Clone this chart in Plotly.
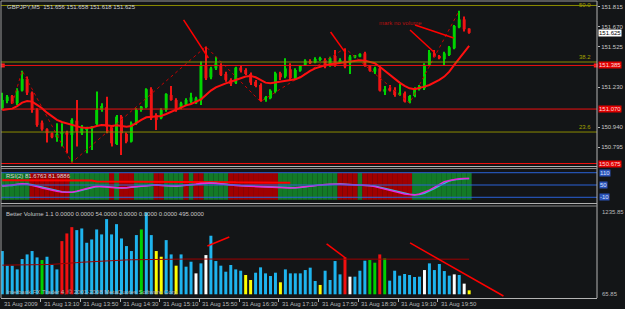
import plotly.graph_objects as go

# ---------------- data ----------------
bars = list(range(95))
time_labels = ["31 Aug 2009", "31 Aug 13:10", "31 Aug 13:50", "31 Aug 14:30", "31 Aug 15:10",
               "31 Aug 15:50", "31 Aug 16:30", "31 Aug 17:10", "31 Aug 17:50", "31 Aug 18:30",
               "31 Aug 19:10", "31 Aug 19:50"]
time_label_bars = [0, 8, 16, 24, 32, 40, 48, 56, 64, 72, 80, 88]

opens = [151.077, 151.130, 151.166, 151.113, 151.205, 151.290, 151.190, 151.064, 150.972, 150.924,
         150.895, 150.866, 150.890, 150.900, 150.883, 150.987, 150.895, 150.924, 150.931, 150.963,
         151.064, 151.084, 150.943, 150.817, 151.016, 150.890, 150.834, 150.967, 151.064, 151.084,
         151.215, 151.028, 151.004, 151.064, 151.173, 151.137, 151.084, 151.101, 151.125, 151.113,
         151.137, 151.384, 151.302, 151.367, 151.384, 151.326, 151.283, 151.263, 151.372, 151.355,
         151.326, 151.270, 151.246, 151.137, 151.149, 151.198, 151.331, 151.307, 151.360, 151.295,
         151.350, 151.392, 151.421, 151.409, 151.428, 151.428, 151.384, 151.457, 151.409, 151.423,
         151.404, 151.447, 151.452, 151.476, 151.384, 151.343, 151.367, 151.198, 151.222, 151.210,
         151.173, 151.186, 151.125, 151.166, 151.215, 151.222, 151.392, 151.476, 151.457, 151.433,
         151.464, 151.513, 151.665, 151.723, 151.656]
highs = [151.190, 151.173, 151.173, 151.222, 151.350, 151.307, 151.198, 151.077, 150.987, 150.931,
         150.900, 150.967, 150.967, 150.914, 151.004, 151.137, 150.955, 150.943, 150.948, 151.198,
         151.113, 151.161, 150.955, 151.028, 151.028, 150.900, 150.980, 151.077, 151.093, 151.222,
         151.229, 151.040, 151.077, 151.186, 151.239, 151.149, 151.125, 151.149, 151.190, 151.161,
         151.416, 151.525, 151.379, 151.452, 151.404, 151.343, 151.295, 151.379, 151.384, 151.367,
         151.336, 151.283, 151.258, 151.166, 151.215, 151.343, 151.343, 151.440, 151.404, 151.367,
         151.392, 151.433, 151.433, 151.447, 151.452, 151.440, 151.452, 151.501, 151.440, 151.513,
         151.464, 151.464, 151.476, 151.488, 151.392, 151.379, 151.379, 151.239, 151.246, 151.229,
         151.253, 151.198, 151.173, 151.229, 151.246, 151.404, 151.501, 151.501, 151.464, 151.488,
         151.530, 151.682, 151.786, 151.743, 151.658]
lows = [151.064, 151.113, 151.108, 151.101, 151.198, 151.173, 151.045, 150.943, 150.914, 150.827,
        150.858, 150.834, 150.798, 150.749, 150.682, 150.798, 150.883, 150.749, 150.774, 150.948,
        151.052, 150.895, 150.798, 150.810, 150.737, 150.822, 150.827, 150.955, 151.052, 151.077,
        150.992, 150.919, 150.997, 151.052, 151.132, 151.052, 151.069, 151.093, 151.113, 151.108,
        151.101, 151.283, 151.288, 151.355, 151.312, 151.270, 151.239, 151.253, 151.336, 151.319,
        151.246, 151.229, 151.125, 151.125, 151.142, 151.186, 151.283, 151.295, 151.283, 151.288,
        151.343, 151.384, 151.399, 151.404, 151.421, 151.367, 151.379, 151.379, 151.404, 151.367,
        151.326, 151.440, 151.447, 151.379, 151.343, 151.326, 151.198, 151.173, 151.198, 151.161,
        151.166, 151.118, 151.113, 151.156, 151.205, 151.210, 151.384, 151.447, 151.433, 151.392,
        151.457, 151.505, 151.658, 151.634, 151.618]
closes = [151.137, 151.161, 151.113, 151.205, 151.290, 151.190, 151.064, 150.955, 150.924, 150.895,
          150.866, 150.890, 150.900, 150.885, 150.992, 150.907, 150.936, 150.936, 150.943, 151.064,
          151.093, 150.943, 150.822, 151.016, 150.895, 150.834, 150.967, 151.064, 151.089, 151.215,
          151.004, 150.992, 151.064, 151.181, 151.137, 151.064, 151.113, 151.137, 151.156, 151.149,
          151.384, 151.295, 151.367, 151.404, 151.319, 151.283, 151.253, 151.372, 151.350, 151.326,
          151.263, 151.239, 151.132, 151.156, 151.205, 151.331, 151.302, 151.367, 151.295, 151.355,
          151.384, 151.423, 151.404, 151.435, 151.440, 151.379, 151.440, 151.392, 151.428, 151.379,
          151.452, 151.462, 151.471, 151.384, 151.350, 151.367, 151.205, 151.215, 151.205, 151.173,
          151.190, 151.125, 151.166, 151.222, 151.239, 151.392, 151.481, 151.452, 151.440, 151.476,
          151.520, 151.675, 151.723, 151.651, 151.625]
ma_values = [151.064, 151.069, 151.074, 151.093, 151.118, 151.130, 151.125, 151.101, 151.077, 151.045,
             151.016, 150.992, 150.977, 150.967, 150.955, 150.943, 150.936, 150.934, 150.936, 150.948,
             150.955, 150.953, 150.948, 150.953, 150.948, 150.943, 150.948, 150.972, 150.992, 151.011,
             151.016, 151.016, 151.021, 151.035, 151.052, 151.069, 151.084, 151.098, 151.108, 151.125,
             151.142, 151.173, 151.205, 151.229, 151.246, 151.258, 151.270, 151.283, 151.295, 151.307,
             151.312, 151.302, 151.283, 151.263, 151.258, 151.263, 151.270, 151.278, 151.278, 151.287,
             151.302, 151.326, 151.348, 151.367, 151.379, 151.389, 151.396, 151.401, 151.404, 151.409,
             151.413, 151.421, 151.426, 151.423, 151.416, 151.404, 151.379, 151.350, 151.319, 151.290,
             151.263, 151.239, 151.222, 151.215, 151.222, 151.234, 151.246, 151.263, 151.283, 151.307,
             151.343, 151.392, 151.440, 151.488, 151.530]
zigzag_bars = [2, 4, 14, 41, 52, 69, 82, 92]
zigzag_prices = [151.108, 151.350, 150.682, 151.525, 151.125, 151.513, 151.113, 151.786]

price_ticks = [151.815, 151.670, 151.525, 151.230, 150.940, 150.795]
price_tick_text = ["151.815", "151.670", "151.525", "151.230", "150.940", "150.795"]
fib_prices = [151.824, 151.413, 150.904]
fib_labels = ["50.0", "38.2", "23.6"]
sr_prices = [151.388, 151.071, 150.675]
sr_labels = ["151.385", "151.070", "150.675"]

rsi_main = [45, 47, 50, 54, 56, 54, 49, 42, 35, 29, 24, 19, 16, 14, 15, 20, 27, 33, 39, 44,
            43, 40, 38, 36, 35, 37, 40, 42, 44, 48, 51, 50, 48, 46, 44, 45, 47, 49, 50, 54,
            58, 60, 59, 57, 54, 52, 50, 48, 46, 45, 44, 43, 41, 40, 39, 38, 36, 35, 35, 37,
            40, 44, 47, 49, 51, 53, 54, 55, 54, 53, 52, 51, 50, 50, 47, 42, 36, 30, 23, 17,
            11, 6, 3, 1, 6, 14, 25, 38, 52, 66, 72, 77, 80, 82, 82]
rsi_signal = [46, 46, 48, 52, 55, 55, 51, 45, 38, 32, 26, 21, 17, 15, 14, 18, 24, 30, 36, 42,
              44, 41, 39, 37, 35, 36, 39, 41, 43, 46, 50, 51, 49, 47, 45, 44, 46, 48, 50, 52,
              56, 59, 60, 58, 55, 53, 51, 49, 47, 46, 45, 44, 42, 41, 40, 39, 37, 36, 35, 36,
              38, 42, 45, 48, 50, 52, 53, 54, 55, 54, 53, 52, 51, 50, 49, 45, 39, 33, 26, 20,
              14, 9, 5, 2, 4, 10, 20, 32, 46, 60, 70, 76, 80, 81, 82]
rsi_slow = [73, 73, 73, 73, 73, 73, 73, 73, 73, 72, 72, 72, 72, 72, 72, 72, 72, 72, 72,
            67, 67, 67, 67, 67, 66, 66, 66, 66, 66, 66, 66, 66, 65, 65, 65, 65, 65, 65, 65, 65,
            64, 64, 64, 64, 64, 64, 64,
            63, 63, 63, 63, 62, 62, 62, 62, 62, 61, 61, 61]
rsi_levels = [110, 50, -10]
rsi_level_text = ["110", "50", "-10"]
rsi_zone_runs = [("g", 6), ("r", 8), ("g", 8), ("r", 1), ("g", 1), ("r", 3), ("g", 4), ("r", 2),
                 ("g", 4), ("r", 1), ("g", 1), ("r", 2), ("g", 5), ("r", 10), ("g", 12), ("r", 4),
                 ("g", 1), ("r", 10), ("g", 12)]

volume = [653, 432, 432, 376, 532, 602, 653, 557, 517, 567,
          442, 376, 803, 919, 1014, 969, 994, 778, 828, 979,
          904, 1135, 904, 1059, 843, 728, 653, 894, 979, 1236,
          894, 653, 567, 818, 602, 432, 602, 417, 492, 316,
          467, 592, 884, 502, 432, 341, 442, 376, 356, 291,
          216, 326, 407, 316, 276, 326, 181, 376, 316, 316,
          316, 366, 402, 201, 141, 356, 216, 502, 301, 557,
          266, 266, 356, 507, 517, 477, 602, 542, 206, 356,
          281, 306, 291, 261, 266, 366, 467, 366, 457, 351,
          281, 301, 291, 161, 60]
volume_kind = list("ccccccccgcccrrrcccccccccccccgccyyccycccwcwcccccccyycccccycccccccyccccrwcccggrgcccccccwcccccwcwy")
volume_avg = [440, 440, 441, 441, 442, 443, 444, 445, 447, 449,
              452, 455, 460, 466, 472, 478, 484, 489, 494, 498,
              502, 506, 510, 513, 516, 519, 521, 523, 525, 527,
              528, 529, 530, 530, 531, 531, 531, 532, 532, 532,
              532, 533, 533, 533, 533, 533, 533, 532, 532, 532,
              532, 531, 531, 531, 531, 530, 530, 530, 530, 530,
              530, 530, 530, 530, 529, 529, 529, 529, 529, 530,
              530, 530, 530, 530, 531, 531, 531, 531, 531, 531,
              531, 531, 531, 530, 530, 530, 530, 530, 530, 530,
              530, 530, 530, 530, 530]

# hand-drawn trend strokes on the chart (bar index, value)
price_strokes = [((36.5, 151.719), (41.5, 151.442)), ((66.1, 151.631), (69.1, 151.479)),
                 ((82.1, 151.646), (86.9, 151.486)), ((83.1, 151.682), (90.9, 151.588))]
volume_strokes = [((41.3, 729), (45.7, 865)), ((65.3, 760), (69.1, 548)), ((82.1, 775), (100.9, -26))]

# ---------------- layout helpers ----------------
W, H = 625, 309
ML, MR, MT, MB = 1, 24, 2, 11
PW, PH = W - ML - MR, H - MT - MB
BAR_PX, BAR0_PX = 5.0, 2.3


def py(pix):
    return (H - MB - pix) / PH


def pxp(pix):
    return (pix - ML) / PW


BG = "#131517"
FONT = "Liberation Sans"
GRAY = "#B8B8B8"
BULL = "#00D400"
BEAR = "#F01414"

fig = go.Figure()

# price panel -----------------------------------------------------------
ccol = [BULL if c >= o else BEAR for o, c in zip(opens, closes)]
fig.add_trace(go.Bar(x=bars, y=[h - l for h, l in zip(highs, lows)], base=lows, width=0.2,
                     marker=dict(color=ccol, line=dict(width=0)), xaxis="x", yaxis="y"))
fig.add_trace(go.Bar(x=bars, y=[max(abs(c - o), 0.006) for o, c in zip(opens, closes)],
                     base=[min(o, c) for o, c in zip(opens, closes)], width=0.6,
                     marker=dict(color=ccol, line=dict(width=0)), xaxis="x", yaxis="y"))
fig.add_trace(go.Scatter(x=zigzag_bars, y=zigzag_prices, mode="lines",
                         line=dict(color="#C80000", width=1, dash="dot"), xaxis="x", yaxis="y"))
fig.add_trace(go.Scatter(x=bars, y=ma_values, mode="lines",
                         line=dict(color="#FF1010", width=2), xaxis="x", yaxis="y"))

# rsi panel ---------------------------------------------------------------
zones = []
for z, n in rsi_zone_runs:
    zones += [z] * n
for code, colr in (("g", "#137A27"), ("r", "#A00000")):
    xs = [b for b, z in zip(bars, zones) if z == code]
    fig.add_trace(go.Bar(x=xs, y=[131] * len(xs), base=-22, width=1.0,
                         marker=dict(color=colr, line=dict(width=0)), xaxis="x", yaxis="y2"))
fig.add_trace(go.Scatter(x=bars[:len(rsi_slow)], y=rsi_slow, mode="lines",
                         line=dict(color="#FF0000", width=2), xaxis="x", yaxis="y2"))
fig.add_trace(go.Scatter(x=bars, y=rsi_signal, mode="lines",
                         line=dict(color="#30B8E0", width=1.5), xaxis="x", yaxis="y2"))
fig.add_trace(go.Scatter(x=bars, y=rsi_main, mode="lines",
                         line=dict(color="#E828D8", width=1.5), xaxis="x", yaxis="y2"))

# volume panel ------------------------------------------------------------
vmap = {"c": "#1EB4EE", "r": "#F01010", "g": "#00D000", "y": "#FFFF00", "w": "#FFFFFF"}
fig.add_trace(go.Bar(x=bars, y=volume, width=0.6,
                     marker=dict(color=[vmap[k] for k in volume_kind], line=dict(width=0)),
                     xaxis="x", yaxis="y3"))
fig.add_trace(go.Scatter(x=bars, y=volume_avg, mode="lines",
                         line=dict(color="#A00000", width=1), xaxis="x", yaxis="y3"))

shapes = []
for p in fib_prices:
    shapes.append(dict(type="line", xref="paper", x0=0, x1=1, yref="y", y0=p, y1=p,
                       line=dict(color="#8C8C00", width=1)))
for p in sr_prices:
    shapes.append(dict(type="line", xref="paper", x0=0, x1=1, yref="y", y0=p, y1=p,
                       line=dict(color="#F01010", width=1)))
for lv in rsi_levels:
    shapes.append(dict(type="line", xref="paper", x0=0, x1=1, yref="y2", y0=lv, y1=lv,
                       line=dict(color="#2A62D8", width=1)))
for (a, b) in price_strokes:
    shapes.append(dict(type="line", xref="x", yref="y", x0=a[0], y0=a[1], x1=b[0], y1=b[1],
                       line=dict(color="#FF0000", width=1.5)))
for (a, b) in volume_strokes:
    shapes.append(dict(type="line", xref="x", yref="y3", x0=a[0], y0=a[1], x1=b[0], y1=b[1],
                       line=dict(color="#FF0000", width=1.5)))
shapes += [
    dict(type="line", xref="paper", yref="paper", x0=0, x1=1, y0=py(1), y1=py(1), line=dict(color="#9A9A9A", width=1)),
    dict(type="line", xref="paper", yref="paper", x0=0, x1=0, y0=0, y1=py(1), line=dict(color="#9A9A9A", width=1)),
    dict(type="line", xref="paper", yref="paper", x0=1, x1=1, y0=0, y1=py(1), line=dict(color="#B4B4B4", width=1)),
    dict(type="line", xref="paper", yref="paper", x0=0, x1=1, y0=py(166.5), y1=py(166.5), line=dict(color="#B0B0B0", width=1)),
    dict(type="line", xref="paper", yref="paper", x0=0, x1=1, y0=py(168.5), y1=py(168.5), line=dict(color="#8A8A8A", width=1)),
    dict(type="line", xref="paper", yref="paper", x0=0, x1=1, y0=py(203.5), y1=py(203.5), line=dict(color="#B0B0B0", width=1)),
    dict(type="line", xref="paper", yref="paper", x0=0, x1=1, y0=py(206), y1=py(206), line=dict(color="#8A8A8A", width=1)),
]

ann = []


def txt(text, x, y, xref="paper", yref="paper", color=GRAY, xanchor="left", yanchor="middle",
        size=6, bg=None, xshift=0):
    d = dict(text=text, x=x, y=y, xref=xref, yref=yref, showarrow=False, xanchor=xanchor,
             yanchor=yanchor, font=dict(family=FONT, size=size, color=color), xshift=xshift)
    if bg:
        d.update(bgcolor=bg, borderpad=0)
    ann.append(d)


for lab, b in zip(time_labels, time_label_bars):
    txt(lab, pxp(BAR0_PX + BAR_PX * b - 1.5), py(304), xshift=1)
txt("GBPJPY,M5  151.656 151.658 151.618 151.625", pxp(5), py(6.5), color="#D0D0D0")
txt("RSI(2) 81.6763 81.9886", pxp(4), py(176), color="#D8D8D8")
txt("Better Volume 1.1 0.0000 0.0000 54.0000 0.0000 0.0000 0.0000 495.0000", pxp(4), py(214), color="#C8C8C8")
txt("Interbank FX Trader 4, \u00a9 2001-2008 MetaQuotes Software Corp.", pxp(4), py(292), color="#B0B0B0")
txt("mark no volume", 75.5, 151.697, xref="x", yref="y", color="#B81010")
for lab, p in zip(fib_labels, fib_prices):
    txt(lab, 119.0, p, xref="x", yref="y", color="#A0A000", xanchor="right",
        yanchor="middle" if p > 151.8 else "bottom")
for lab, p in zip(sr_labels, sr_prices):
    txt(lab, 1, p, yref="y", color="#FFD8D8", bg="#E00000", xshift=1)
txt("151.625", 1, closes[-1], yref="y", color="#000000", bg="#FFFFFF", xshift=1)
for lab, lv in zip(rsi_level_text, rsi_levels):
    txt(lab, 1, lv, yref="y2", color="#D8E0FF", bg="#2A52B8", xshift=2)
txt("1235.85", 1, max(volume) - 0.15, yref="y3", xshift=3)
txt("65.85", 1, 0, yref="y3", xshift=3)

fig.add_trace(go.Scatter(x=[0.1, 119.5], y=[sr_prices[0]] * 2, mode="markers",
                         marker=dict(symbol="square", size=4, color="#FF2020"), cliponaxis=False,
                         xaxis="x", yaxis="y"))

fig.update_layout(
    width=W, height=H, margin=dict(l=ML, r=MR, t=MT, b=MB),
    paper_bgcolor=BG, plot_bgcolor=BG, showlegend=False, barmode="overlay",
    shapes=shapes, annotations=ann,
    xaxis=dict(domain=[0, 1], range=[(ML - BAR0_PX) / BAR_PX, (W - MR - BAR0_PX) / BAR_PX], anchor="y3",
               showgrid=False, zeroline=False, showline=True, linecolor="#B4B4B4", linewidth=1,
               ticks="outside", ticklen=3, tickcolor="#B4B4B4",
               tickvals=[b - 0.3 for b in time_label_bars], showticklabels=False),
    yaxis=dict(domain=[py(166), py(3)], range=[150.657, 151.842], side="right", anchor="x",
               showgrid=False, zeroline=False, tickvals=price_ticks, ticktext=price_tick_text,
               ticks="outside", ticklen=2, tickcolor="#B4B4B4",
               tickfont=dict(family=FONT, size=6, color="#C8C8C8")),
    yaxis2=dict(domain=[py(203), py(169)], range=[-37.9, 128.1], side="right", anchor="x",
                showgrid=False, zeroline=False, showticklabels=False),
    yaxis3=dict(domain=[0, py(207)], range=[-56, 1318], side="right", anchor="x",
                showgrid=False, zeroline=False, showticklabels=False),
)

fig.write_html("out.html")
